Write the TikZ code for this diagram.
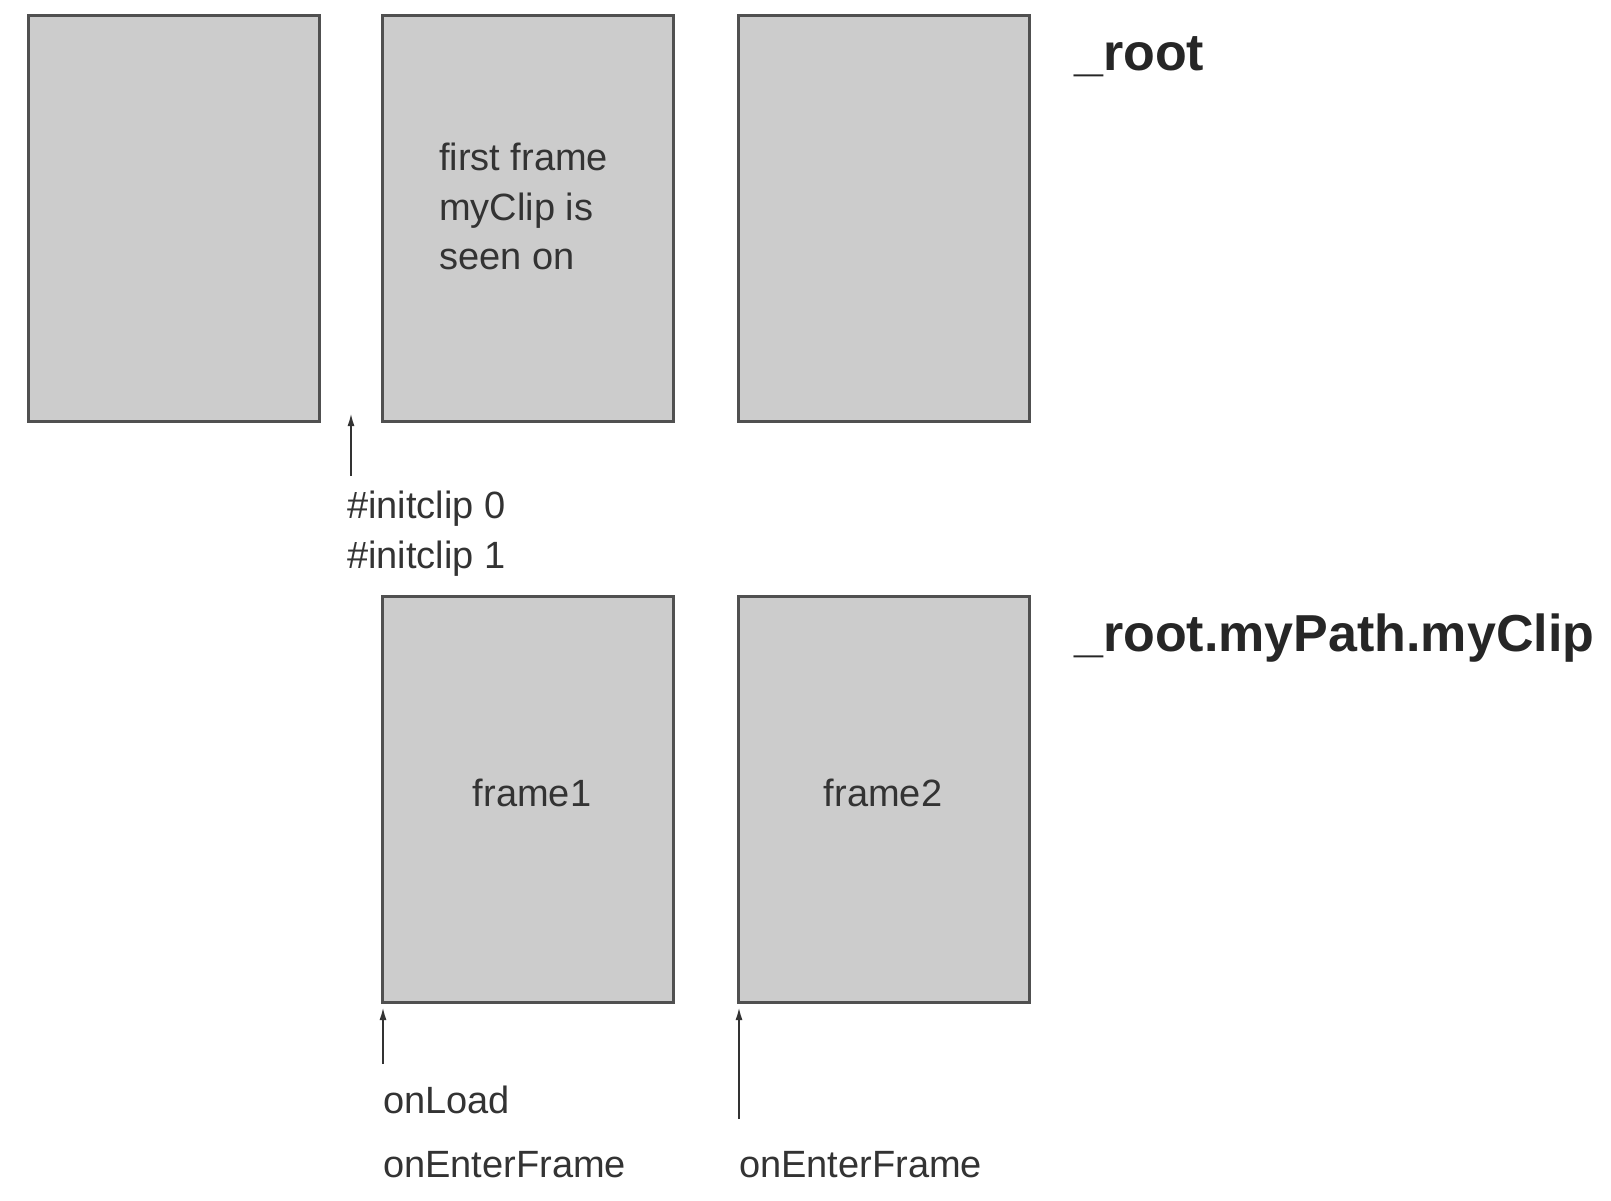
\documentclass[tikz,border=0pt]{standalone}
\usepackage{fontspec}
\setmainfont{Liberation Sans}
\usetikzlibrary{arrows.meta}
\definecolor{boxfill}{HTML}{CCCCCC}
\definecolor{boxline}{HTML}{505050}
\definecolor{txt}{HTML}{333333}
\begin{document}
\begin{tikzpicture}[x=1pt,y=-1pt,
  framebox/.style={draw=boxline,fill=boxfill,line width=3pt,anchor=north west,inner sep=0pt,outer sep=0pt,minimum width=291pt,minimum height=406pt},
  lbl/.style={anchor=base west,inner sep=0pt,text=txt,font=\fontsize{38}{46}\selectfont},
  ctr/.style={anchor=base,inner sep=0pt,text=txt,font=\fontsize{38}{46}\selectfont},
  title/.style={anchor=base west,inner sep=0pt,text=black!85,font=\bfseries\fontsize{52}{60}\selectfont},
  arr/.style={draw=black!80,line width=2pt,-{Latex[length=13pt,width=7pt]}}]
\useasboundingbox (0,0) rectangle (1611,1200);
% top row
\node[framebox] (b1) at (28,15) {};
\node[framebox] (b2) at (382,15) {};
\node[framebox] (b3) at (738,15) {};
% bottom row
\node[framebox] (b4) at (382,596) {};
\node[framebox] (b5) at (738,596) {};
% titles
\node[title] (troot) at (1074,70) {\_root};
\node[title] (tclip) at (1074,651) {\_root.myPath.myClip};
% box texts
\node[lbl] (ff1) at (439,170) {first frame};
\node[lbl] (ff2) at (439,220) {myClip is};
\node[lbl] (ff3) at (439,269) {seen on};
\node[ctr] (f1) at (532,806) {frame1};
\node[ctr] (f2) at (883,806) {frame2};
% event labels
\node[lbl] (ic0) at (347,518) {\#initclip 0};
\node[lbl] (ic1) at (347,568) {\#initclip 1};
\node[lbl] (onl) at (383,1113) {onLoad};
\node[lbl] (oef1) at (383,1177) {onEnterFrame};
\node[lbl] (oef2) at (739,1177) {onEnterFrame};
% arrows
\coordinate (a1s) at (351,476);
\coordinate (a1e) at (351,413);
\coordinate (a2s) at (383,1064);
\coordinate (a2e) at (383,1007);
\coordinate (a3s) at (739,1119);
\coordinate (a3e) at (739,1007);
\draw[arr] (a1s) -- (a1e);
\draw[arr] (a2s) -- (a2e);
\draw[arr] (a3s) -- (a3e);
\end{tikzpicture}
\end{document}
